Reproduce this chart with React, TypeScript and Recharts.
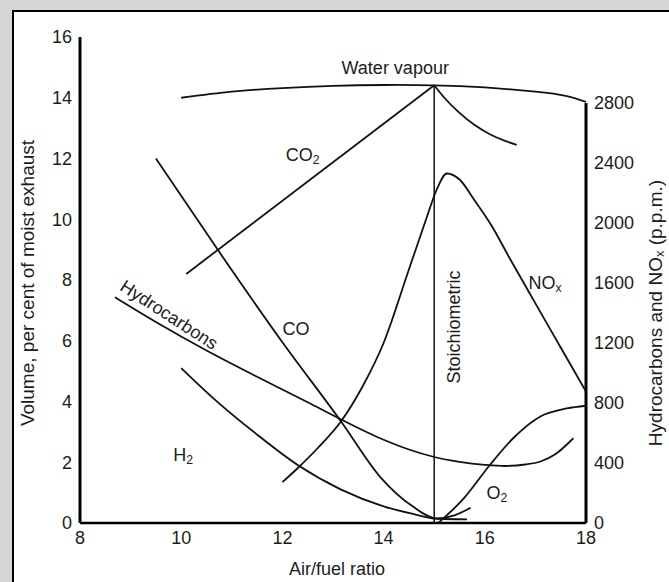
import React from 'react';
import { LineChart, Line, XAxis, YAxis, ReferenceLine, ReferenceDot, Label } from 'recharts';

// ---- axis ticks ----
const xTicks = [8, 10, 12, 14, 16, 18];
const volTicks = [0, 2, 4, 6, 8, 10, 12, 14, 16];
const ppmTicks = [0, 400, 800, 1200, 1600, 2000, 2400, 2800];
const volDomain = [0, 16];
const ppmDomain = [0, 3240];

// ---- series (volume %, left axis) ----
const waterVapour = [
  { x: 10, y: 14.0 }, { x: 11, y: 14.2 }, { x: 12, y: 14.32 }, { x: 13, y: 14.39 },
  { x: 14, y: 14.42 }, { x: 15, y: 14.41 }, { x: 16, y: 14.34 }, { x: 17, y: 14.2 },
  { x: 17.6, y: 14.06 }, { x: 18, y: 13.86 },
];
const co2Rich = [{ x: 10.1, y: 8.2 }, { x: 15, y: 14.41 }];
const co2Lean = [
  { x: 15, y: 14.41 }, { x: 15.2, y: 14.0 }, { x: 15.5, y: 13.5 }, { x: 15.8, y: 13.1 },
  { x: 16.1, y: 12.8 }, { x: 16.4, y: 12.58 }, { x: 16.63, y: 12.45 },
];
const co = [
  { x: 9.5, y: 12.0 }, { x: 10.7, y: 9.05 }, { x: 12, y: 5.95 }, { x: 13.16, y: 3.34 },
  { x: 13.93, y: 1.52 }, { x: 14.58, y: 0.54 }, { x: 15.05, y: 0.15 }, { x: 15.4, y: 0.25 },
  { x: 15.72, y: 0.5 },
];
const h2 = [
  { x: 10.0, y: 5.1 }, { x: 10.62, y: 4.13 }, { x: 11.47, y: 2.95 }, { x: 12.31, y: 1.9 },
  { x: 13.16, y: 1.1 }, { x: 14, y: 0.55 }, { x: 14.58, y: 0.3 }, { x: 15.05, y: 0.14 },
  { x: 15.65, y: 0.12 },
];
const o2 = [
  { x: 15.08, y: 0.0 }, { x: 15.58, y: 0.8 }, { x: 16.1, y: 1.91 }, { x: 16.56, y: 2.79 },
  { x: 17.09, y: 3.5 }, { x: 17.62, y: 3.77 }, { x: 18, y: 3.86 },
];

// ---- series (p.p.m., right axis) ----
const hydrocarbons = [
  { x: 8.69, y: 1505 }, { x: 9.5, y: 1340 }, { x: 10.5, y: 1150 }, { x: 11.5, y: 975 },
  { x: 12.5, y: 805 }, { x: 13.16, y: 690 }, { x: 14, y: 555 }, { x: 14.5, y: 490 },
  { x: 15, y: 440 }, { x: 15.5, y: 408 }, { x: 16, y: 388 }, { x: 16.4, y: 380 },
  { x: 16.8, y: 390 }, { x: 17.1, y: 410 }, { x: 17.4, y: 460 }, { x: 17.75, y: 565 },
];
const nox = [
  { x: 12, y: 272 }, { x: 12.3, y: 365 }, { x: 12.7, y: 500 }, { x: 13.16, y: 678 },
  { x: 13.6, y: 920 }, { x: 14, y: 1200 }, { x: 14.5, y: 1690 }, { x: 14.85, y: 2035 },
  { x: 15.04, y: 2215 }, { x: 15.25, y: 2330 }, { x: 15.5, y: 2290 }, { x: 15.8, y: 2150 },
  { x: 16.12, y: 1990 }, { x: 16.5, y: 1760 }, { x: 17, y: 1464 }, { x: 17.5, y: 1170 },
  { x: 18, y: 876 },
];

// ---- annotation positions (data units) ----
const stoichX = 15;
const stoichTop = 14.41;
const ppmAxisTop = 2800;

const FONT = '"Liberation Sans", Arial, Helvetica, sans-serif';
const INK = '#1c1c1c';
const LINE = '#111';
const FS = 18;
const TITLE_FS = 19;

const txt = (content: React.ReactNode, rotate = 0) => (p: any) => (
  <text
    x={p.cx}
    y={p.cy}
    transform={rotate ? `rotate(${rotate} ${p.cx} ${p.cy})` : undefined}
    textAnchor="middle"
    dominantBaseline="central"
    fontFamily={FONT}
    fontSize={FS}
    fill={INK}
  >
    {content}
  </text>
);

const sub = (s: string) => (
  <tspan fontSize={FS * 0.68} dy={5}>{s}</tspan>
);

export default function App() {
  const curve = {
    dot: false,
    stroke: LINE,
    strokeWidth: 1.8,
    isAnimationActive: false,
    dataKey: 'y',
  } as const;

  return (
    <div style={{ position: 'absolute', left: 0, top: 0, width: 669, height: 582, overflow: 'hidden', background: '#d6d6d6' }}>
      <div style={{ position: 'absolute', left: 12, top: 10, width: 700, height: 620, background: '#fff', border: '2px solid #000', boxSizing: 'border-box' }} />
      <div style={{ position: 'absolute', left: 0, top: 0 }}>
        <LineChart width={669} height={582} margin={{ top: 37, right: 0, bottom: 19, left: 10 }}>
          <XAxis
            type="number"
            dataKey="x"
            domain={[8, 18]}
            ticks={xTicks}
            allowDataOverflow
            height={40}
            tickLine={false}
            axisLine={{ stroke: '#000', strokeWidth: 2.5 }}
            tick={{ fill: INK, fontSize: FS, fontFamily: FONT }}
          >
            <Label
              content={(p: any) => {
                const vb = p.viewBox;
                return (
                  <text x={vb.x + vb.width / 2 + 4} y={vb.y + 46} textAnchor="middle" dominantBaseline="central" fontFamily={FONT} fontSize={FS} fill={INK}>
                    Air/fuel ratio
                  </text>
                );
              }}
            />
          </XAxis>
          <YAxis
            yAxisId="left"
            type="number"
            domain={volDomain}
            ticks={volTicks}
            width={70}
            tickLine={false}
            axisLine={{ stroke: '#000', strokeWidth: 3 }}
            tick={{ fill: INK, fontSize: FS, fontFamily: FONT }}
          >
            <Label
              content={(p: any) => {
                const vb = p.viewBox;
                const cx = vb.x + 17;
                const cy = vb.y + vb.height / 2 + 3;
                return (
                  <text x={cx} y={cy} transform={`rotate(-90 ${cx} ${cy})`} textAnchor="middle" dominantBaseline="central" fontFamily={FONT} fontSize={TITLE_FS} fill={INK}>
                    Volume, per cent of moist exhaust
                  </text>
                );
              }}
            />
          </YAxis>
          <YAxis
            yAxisId="right"
            orientation="right"
            type="number"
            domain={ppmDomain}
            ticks={ppmTicks}
            width={83}
            tickLine={false}
            axisLine={false}
            tick={{ fill: INK, fontSize: FS, fontFamily: FONT }}
          >
            <Label
              content={(p: any) => {
                const vb = p.viewBox;
                const cx = vb.x + 69;
                const cy = vb.y + vb.height * (1 - ppmAxisTop / 2 / ppmDomain[1]);
                return (
                  <text x={cx} y={cy} transform={`rotate(-90 ${cx} ${cy})`} textAnchor="middle" dominantBaseline="central" fontFamily={FONT} fontSize={TITLE_FS} fill={INK}>
                    Hydrocarbons and NO<tspan fontSize={TITLE_FS * 0.68} dy={4}>x</tspan><tspan dy={-4}> (p.p.m.)</tspan>
                  </text>
                );
              }}
            />
          </YAxis>

          <ReferenceLine
            yAxisId="right"
            segment={[{ x: 18, y: 0 }, { x: 18, y: ppmAxisTop }]}
            stroke="#000"
            strokeWidth={3}
          />
          <ReferenceLine
            yAxisId="left"
            segment={[{ x: stoichX, y: 0 }, { x: stoichX, y: stoichTop }]}
            stroke={LINE}
            strokeWidth={1.5}
          />

          <Line {...curve} yAxisId="left" data={waterVapour} type="natural" />
          <Line {...curve} yAxisId="left" data={co2Rich} type="linear" />
          <Line {...curve} yAxisId="left" data={co2Lean} type="monotone" />
          <Line {...curve} yAxisId="left" data={co} type="monotone" />
          <Line {...curve} yAxisId="left" data={h2} type="monotone" />
          <Line {...curve} yAxisId="left" data={o2} type="monotone" />
          <Line {...curve} yAxisId="right" data={hydrocarbons} type="monotone" />
          <Line {...curve} yAxisId="right" data={nox} type="monotone" />

          <ReferenceDot yAxisId="left" x={14.23} y={14.97} r={1} shape={txt('Water vapour')} />
          <ReferenceDot yAxisId="left" x={12.4} y={12.1} r={1} shape={txt(<>CO{sub('2')}</>)} />
          <ReferenceDot yAxisId="left" x={12.27} y={6.38} r={1} shape={txt('CO')} />
          <ReferenceDot yAxisId="left" x={17.19} y={7.9} r={1} shape={txt(<>NO{sub('x')}</>)} />
          <ReferenceDot yAxisId="left" x={10.04} y={2.24} r={1} shape={txt(<>H{sub('2')}</>)} />
          <ReferenceDot yAxisId="left" x={16.24} y={0.99} r={1} shape={txt(<>O{sub('2')}</>)} />
          <ReferenceDot yAxisId="left" x={15.39} y={6.45} r={1} shape={txt('Stoichiometric', -90)} />
          <ReferenceDot yAxisId="left" x={9.76} y={6.85} r={1} shape={txt('Hydrocarbons', 33)} />
        </LineChart>
      </div>
    </div>
  );
}
